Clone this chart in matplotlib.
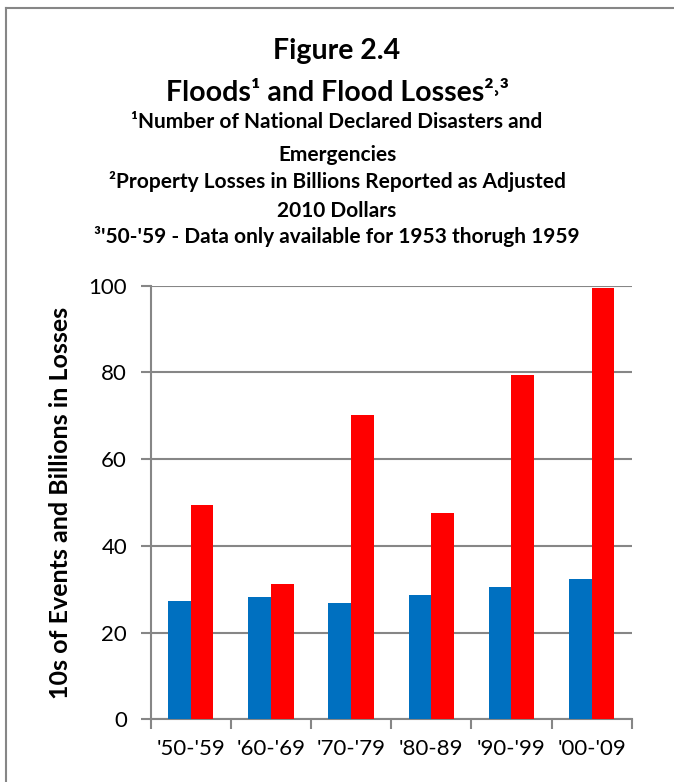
import matplotlib.pyplot as plt
import numpy as np
from matplotlib.lines import Line2D

decades = ["'50-'59", "'60-'69", "'70-'79", "'80-89", "'90-'99", "'00-'09"]
floods = [27.3, 28.1, 26.9, 28.7, 30.5, 32.3]
losses = [49.4, 31.2, 70.1, 47.6, 79.5, 99.4]

plt.rcParams['font.family'] = ['Lato', 'DejaVu Sans']

fig = plt.figure(figsize=(6.74, 7.82), dpi=100)
ax = fig.add_axes([0.2236, 0.0802, 0.7136, 0.5545])

x = np.arange(len(decades))
w = 0.283
ax.bar(x - w / 2, floods, width=w, color='#0070C0', zorder=3)
ax.bar(x + w / 2, losses, width=w, color='#FF0000', zorder=3)

ax.set_xlim(-0.5, 5.5)
ax.set_ylim(0, 100)
ax.set_yticks(range(0, 101, 20))
ax.grid(axis='y', color='#868686', linewidth=1.5, zorder=0)
ax.set_axisbelow(True)

ax.set_xticks(x)
ax.set_xticklabels(decades, fontsize=16)
ax.set_xticks(np.arange(-0.5, 6, 1), minor=True)
ax.tick_params(axis='x', which='major', length=0, pad=14)
ax.tick_params(axis='x', which='minor', length=7, width=1.5, color='#868686')
ax.tick_params(axis='y', length=7, width=1.5, color='#868686', labelsize=16, pad=10)

for side in ['top', 'right']:
    ax.spines[side].set_visible(False)
for side in ['left', 'bottom']:
    ax.spines[side].set_color('#868686')
    ax.spines[side].set_linewidth(1.5)

ax.set_ylabel('10s of Events and Billions in Losses', fontsize=18, fontweight='bold', labelpad=12)

# titles
fig.text(0.5, 0.935, 'Figure 2.4', ha='center', va='center', fontsize=20.5, fontweight='bold')
fig.text(0.5, 0.881, 'Floods¹ and Flood Losses²˒³', ha='center', va='center', fontsize=20.5, fontweight='bold')
sub = [('¹Number of National Declared Disasters and', 0.844),
       ('Emergencies', 0.802),
       ('²Property Losses in Billions Reported as Adjusted', 0.768),
       ('2010 Dollars', 0.730),
       ("³'50-'59 - Data only available for 1953 thorugh 1959", 0.697)]
for s, yy in sub:
    fig.text(0.5, yy, s, ha='center', va='center', fontsize=15, fontweight='bold')

# outer frame lines
fig.add_artist(Line2D([0.009, 0.009], [0, 0.99], transform=fig.transFigure, color='#868686', linewidth=1.5))
fig.add_artist(Line2D([0.009, 1], [0.99, 0.99], transform=fig.transFigure, color='#868686', linewidth=1.5))

fig.savefig('out.png', dpi=100)
